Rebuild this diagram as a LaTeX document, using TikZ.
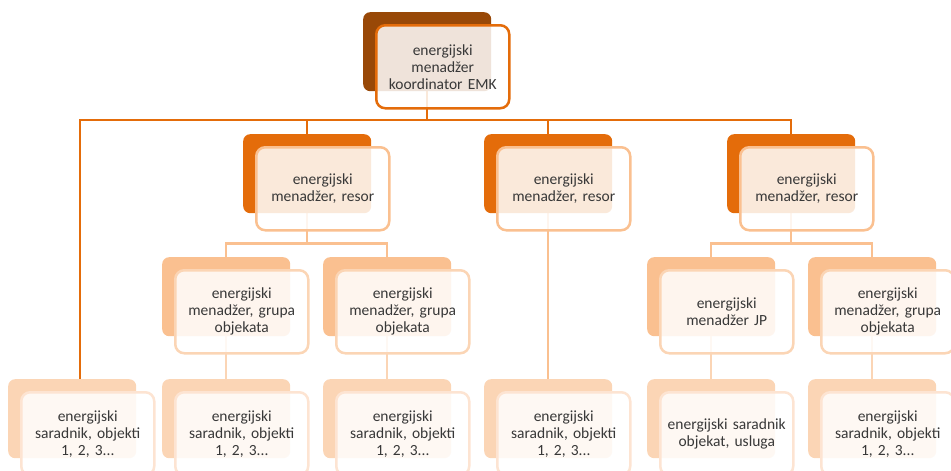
\documentclass[tikz,border=0pt]{standalone}
\usepackage{fontspec}
\setmainfont{Carlito}
\usetikzlibrary{positioning}
\definecolor{emkbrown}{HTML}{984807}
\definecolor{emkorange}{HTML}{E46C0A}
\definecolor{peach}{HTML}{FAC090}
\definecolor{lightpeach}{HTML}{FBD5B5}
\definecolor{palepeach}{HTML}{FDE4D2}
\pgfdeclarelayer{background}
\pgfsetlayers{background,main}
\tikzset{
    back/.style={rectangle, rounded corners=7pt, minimum width=128pt, minimum height=79pt, inner sep=0pt, anchor=north west},
    front/.style={rectangle, draw, line width=2.5pt, rounded corners=9pt, fill=white, fill opacity=0.85, text opacity=1, minimum width=133pt, minimum height=83pt, text width=128pt, align=center, inner sep=0pt, text=black!78, font=\fontsize{15.5}{17}\selectfont},
    trunk/.style={draw=emkorange, line width=2.5pt},
    branch/.style={draw=peach, line width=2.5pt},
    twig/.style={draw=lightpeach, line width=2.5pt}
}

\begin{document}
\begin{tikzpicture}[x=1pt, y=-1pt]
    \useasboundingbox (0,0) rectangle (951,471);
    % Level 1: koordinator
    \node[back, fill=emkbrown] (emk-b) at (363,12) {};
    \node[front, draw=emkorange, below right=12pt and 12pt of emk-b.north west] (emk) {energijski\\menadžer\\koordinator EMK};
    % Level 2: resori
    \node[back, fill=emkorange] (res1-b) at (243,134) {};
    \node[front, draw=peach, below right=12pt and 12pt of res1-b.north west] (res1) {energijski\\menadžer, resor};
    \node[back, fill=emkorange] (res2-b) at (484,134) {};
    \node[front, draw=peach, below right=12pt and 12pt of res2-b.north west] (res2) {energijski\\menadžer, resor};
    \node[back, fill=emkorange] (res3-b) at (727,134) {};
    \node[front, draw=peach, below right=12pt and 12pt of res3-b.north west] (res3) {energijski\\menadžer, resor};
    % Level 3: grupe objekata, JP
    \node[back, fill=peach] (grp1-b) at (162,257) {};
    \node[front, draw=lightpeach, below right=12pt and 12pt of grp1-b.north west] (grp1) {energijski\\menadžer, grupa\\objekata};
    \node[back, fill=peach] (grp2-b) at (323,257) {};
    \node[front, draw=lightpeach, below right=12pt and 12pt of grp2-b.north west] (grp2) {energijski\\menadžer, grupa\\objekata};
    \node[back, fill=peach] (jp-b) at (647,257) {};
    \node[front, draw=lightpeach, below right=12pt and 12pt of jp-b.north west] (jp) {energijski\\menadžer JP};
    \node[back, fill=peach] (grp3-b) at (808,257) {};
    \node[front, draw=lightpeach, below right=12pt and 12pt of grp3-b.north west] (grp3) {energijski\\menadžer, grupa\\objekata};
    % Level 4: saradnici
    \node[back, fill=lightpeach] (sar1-b) at (8,379) {};
    \node[front, draw=palepeach, below right=12pt and 12pt of sar1-b.north west] (sar1) {energijski\\saradnik, objekti\\1, 2, 3...};
    \node[back, fill=lightpeach] (sar2-b) at (162,379) {};
    \node[front, draw=palepeach, below right=12pt and 12pt of sar2-b.north west] (sar2) {energijski\\saradnik, objekti\\1, 2, 3...};
    \node[back, fill=lightpeach] (sar3-b) at (323,379) {};
    \node[front, draw=palepeach, below right=12pt and 12pt of sar3-b.north west] (sar3) {energijski\\saradnik, objekti\\1, 2, 3...};
    \node[back, fill=lightpeach] (sar4-b) at (484,379) {};
    \node[front, draw=palepeach, below right=12pt and 12pt of sar4-b.north west] (sar4) {energijski\\saradnik, objekti\\1, 2, 3...};
    \node[back, fill=lightpeach] (sar5-b) at (647,379) {};
    \node[front, draw=palepeach, below right=12pt and 12pt of sar5-b.north west] (sar5) {energijski saradnik\\objekat, usluga};
    \node[back, fill=lightpeach] (sar6-b) at (808,379) {};
    \node[front, draw=palepeach, below right=12pt and 12pt of sar6-b.north west] (sar6) {energijski\\saradnik, objekti\\1, 2, 3...};

    \begin{pgfonlayer}{background}
        % connectors from koordinator
        \coordinate (bus) at (80,120);
        \draw[trunk] (emk-b.south) |- (bus) -- (bus |- sar1-b.north);
        \draw[trunk] (emk-b.south) |- (bus -| res3-b) -- (res3-b.north);
        \draw[trunk] (bus -| res1-b) -- (res1-b.north);
        \draw[trunk] (bus -| res2-b) -- (res2-b.north);
        % connectors from resori
        \draw[branch] (res1-b.south) -- ++(0,30) coordinate (j1) -| (grp1-b.north);
        \draw[branch] (j1) -| (grp2-b.north);
        \draw[branch] (res2-b) -- (sar4-b);
        \draw[branch] (res3-b.south) -- ++(0,30) coordinate (j3) -| (jp-b.north);
        \draw[branch] (j3) -| (grp3-b.north);
        % connectors to saradnici
        \draw[twig] (grp1-b) -- (sar2-b);
        \draw[twig] (grp2-b) -- (sar3-b);
        \draw[twig] (jp-b) -- (sar5-b);
        \draw[twig] (grp3-b) -- (sar6-b);
    \end{pgfonlayer}
\end{tikzpicture}
\end{document}
